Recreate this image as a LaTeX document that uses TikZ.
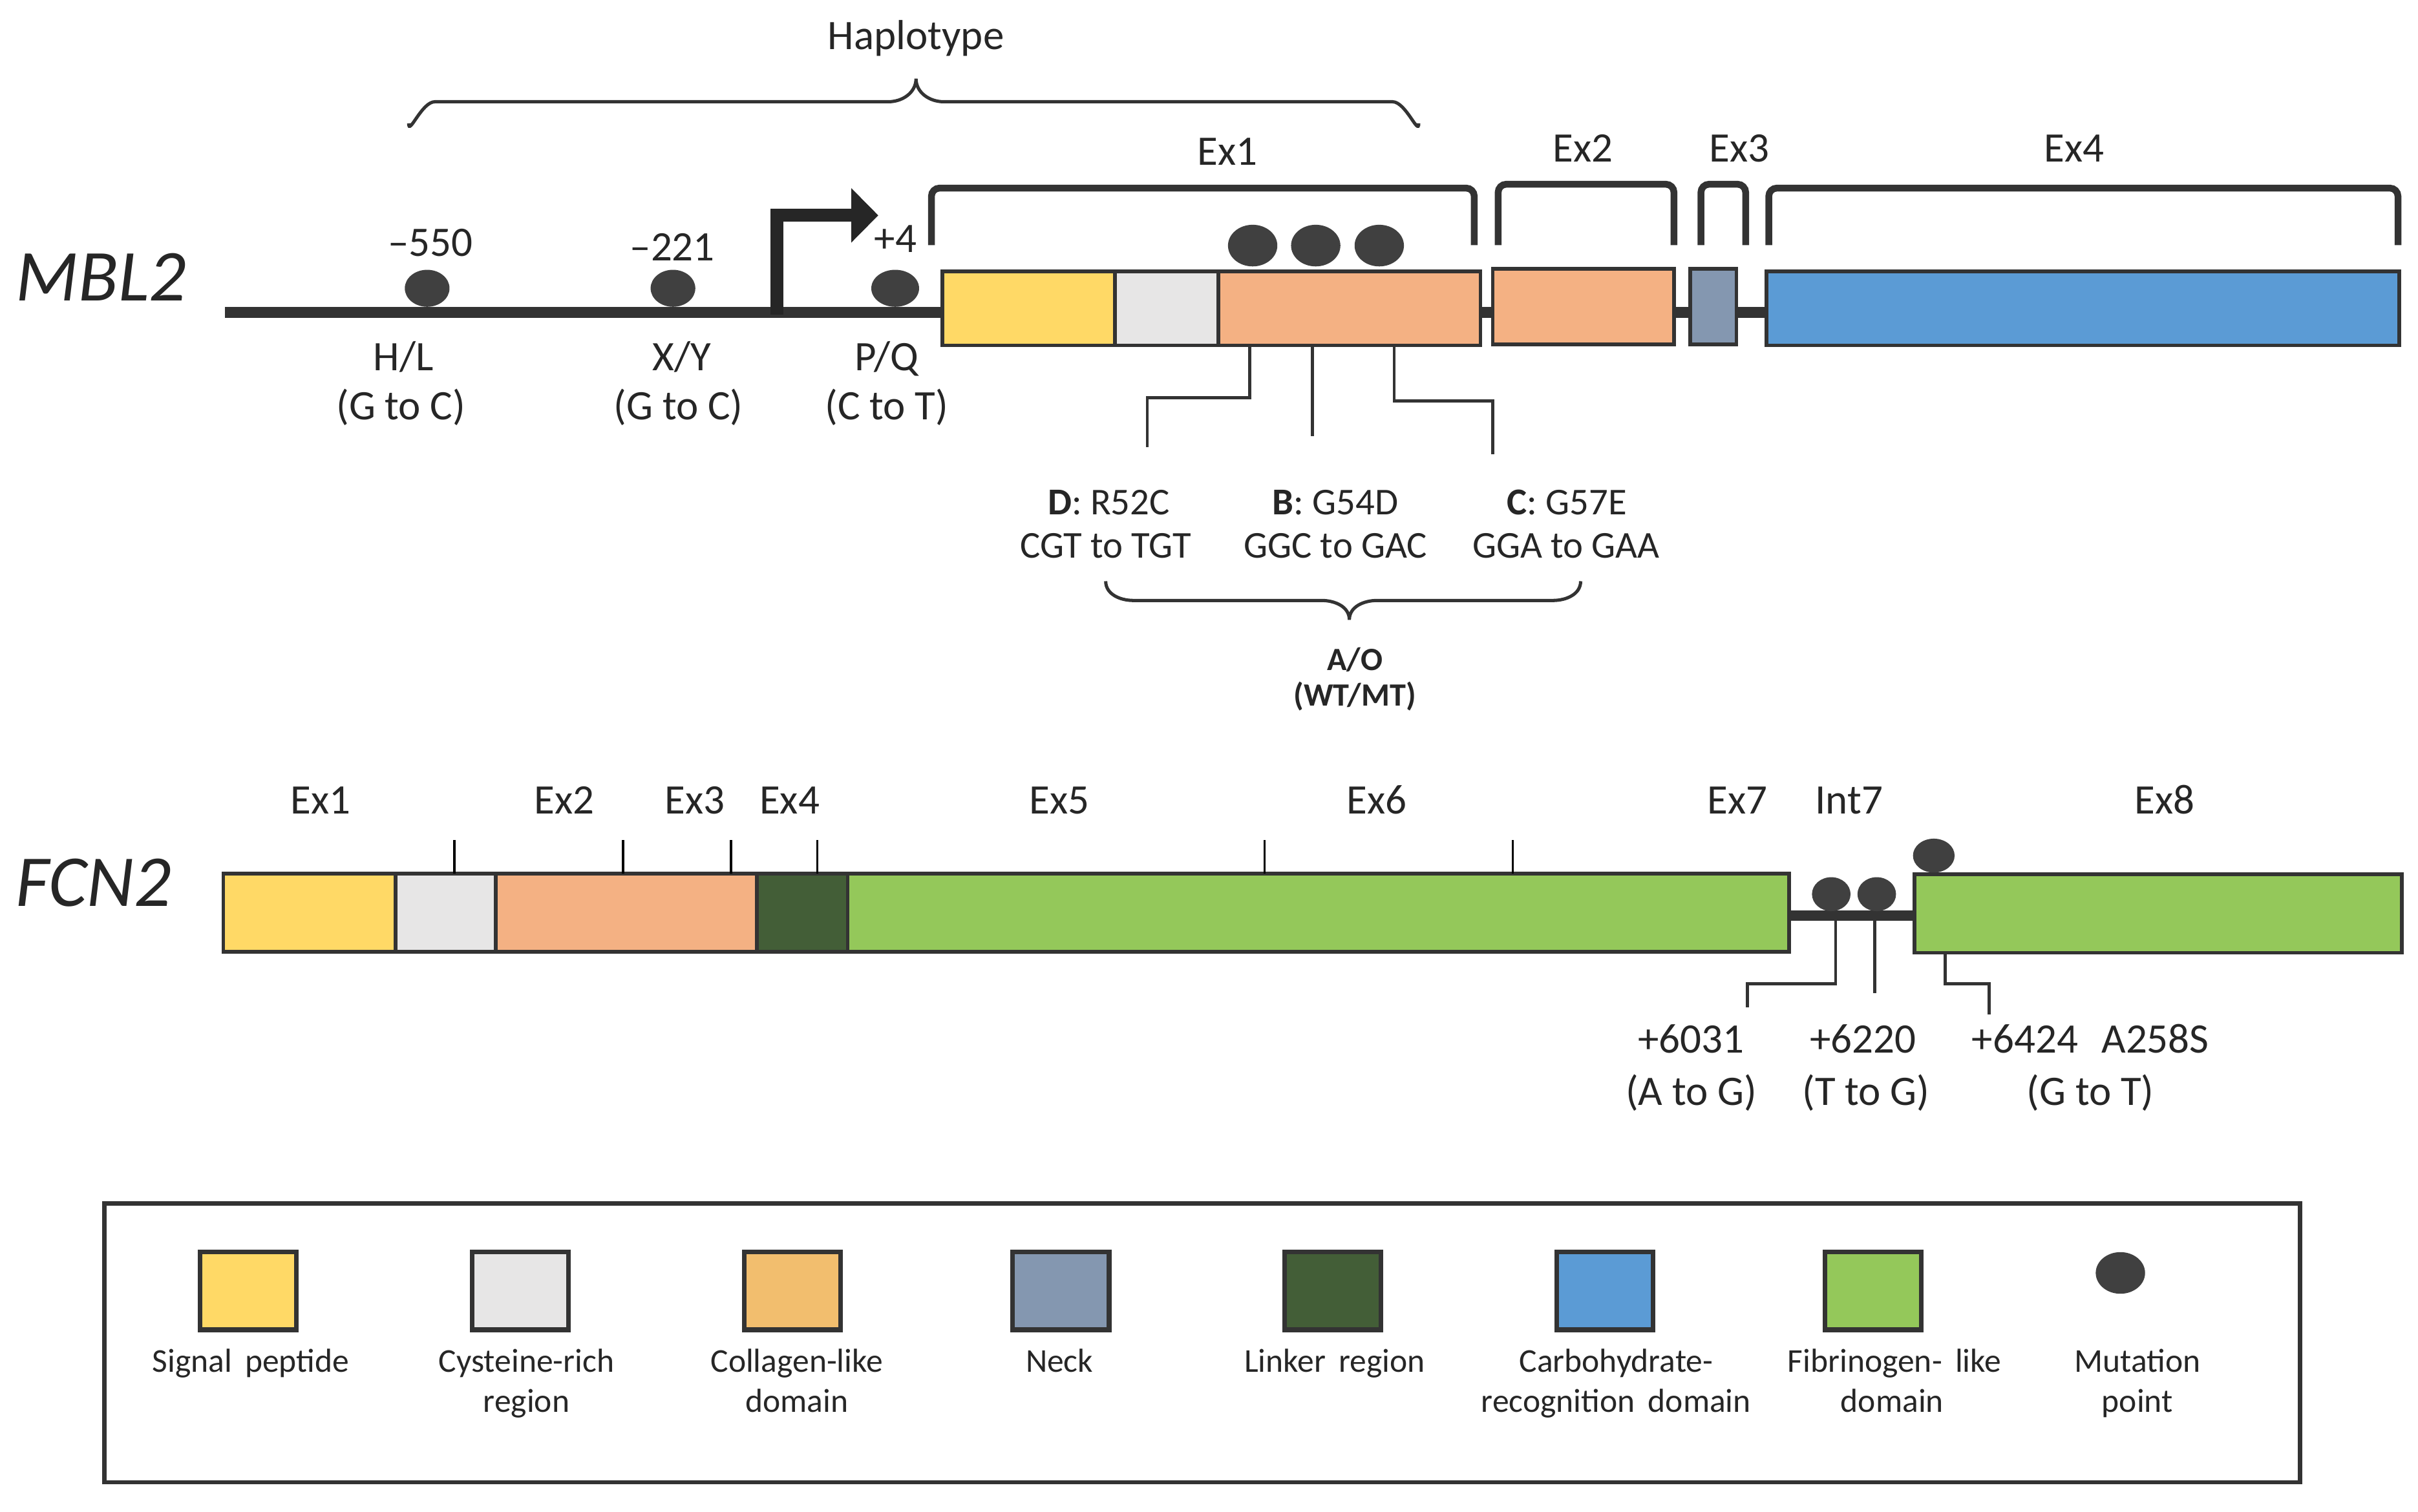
\documentclass[tikz,border=0pt]{standalone}
\usepackage{fontspec}
\setmainfont{Carlito}
\usetikzlibrary{shapes.geometric}
\definecolor{cyel}{HTML}{FFD966}
\definecolor{cgry}{HTML}{E7E6E6}
\definecolor{csal}{HTML}{F4B183}
\definecolor{cnek}{HTML}{8497B0}
\definecolor{cblu}{HTML}{5B9BD5}
\definecolor{cdgr}{HTML}{435E37}
\definecolor{cgrn}{HTML}{94C85A}
\definecolor{ccol}{HTML}{F2BE6E}
\definecolor{dotc}{HTML}{404040}
\definecolor{outl}{HTML}{333333}
\definecolor{txt}{HTML}{262626}
\newcommand\segbox[6]{\node[segb, fill=#2, minimum width={(#4-(#3))*0.02cm}, minimum height={(#6-(#5))*0.02cm}] (#1) at ({(#3+#4)/2},{(#5+#6)/2}) {};}
\newcommand\mdot[5]{\node[mdotb, minimum width={#4*0.02cm}, minimum height={#5*0.02cm}] (#1) at (#2,#3) {};}
\tikzset{
  segb/.style={draw=outl, line width=1.4pt, inner sep=0pt, outer sep=0pt, rectangle},
  legb/.style={draw=outl, line width=1.7pt, inner sep=0pt, outer sep=0pt, rectangle,
     minimum width={62.5*0.02cm}, minimum height={50.5*0.02cm}},
  mdotb/.style={ellipse, fill=dotc, draw=none, inner sep=0pt, outer sep=0pt},
  mainline/.style={draw=outl, line width=4pt},
  intronline/.style={draw=outl, line width=3.7pt},
  exbracket/.style={draw=outl, line width=2.5pt, rounded corners=3pt},
  cbrace/.style={draw=outl, line width=1.2pt},
  thinl/.style={draw=outl, line width=1.1pt},
  tickl/.style={draw=black, line width=0.9pt},
  lbl/.style={font=\fontsize{15.5}{18}\selectfont, text=txt, inner sep=0pt, anchor=base},
  mlbl/.style={font=\fontsize{14}{17}\selectfont, text=txt, inner sep=0pt, anchor=base},
  blbl/.style={font=\fontsize{12}{14}\selectfont\bfseries, text=txt, inner sep=0pt, anchor=base},
  leglbl/.style={font=\fontsize{12.3}{15}\selectfont, text=txt, inner sep=0pt, anchor=base},
  gname/.style={font=\fontsize{27}{30}\selectfont\itshape, text=txt, inner sep=0pt, anchor=base west},
}
\begin{document}
\begin{tikzpicture}[x=0.02cm,y=-0.02cm]
\useasboundingbox (0,0) rectangle (1568,980.4);

% ================= MBL2 =================
\node[gname] (mbl2) at (10,195) {MBL2};
\node[lbl] (hapl) at (594,32) {Haplotype};
\draw[cbrace] (265,80) to[out=-90,in=180] (282,66) -- (576,66) to[out=0,in=-90] (594,51)
  to[out=-90,in=180] (612,66) -- (903,66) to[out=0,in=-90] (920,80);

\coordinate (mstart) at (146,202.5);
\segbox{ex1a}{cyel}{611}{723}{176}{224}
\segbox{ex1b}{cgry}{723}{790}{176}{224}
\segbox{ex1c}{csal}{790}{960}{176}{224}
\segbox{ex2m}{csal}{968}{1085.5}{174.5}{223.5}
\segbox{ex3m}{cnek}{1096}{1126}{174.5}{223.5}
\segbox{ex4m}{cblu}{1145.5}{1556}{176}{224}
\draw[mainline] (mstart) -- (mstart -| ex1a.west);
\draw[mainline] (ex1c.east |- mstart) -- (ex2m.west |- mstart);
\draw[mainline] (ex2m.east |- mstart) -- (ex3m.west |- mstart);
\draw[mainline] (ex3m.east |- mstart) -- (ex4m.west |- mstart);

% transcription start arrow
\draw[draw=txt, line width=4.8pt] (503.8,204) -- (503.8,139.7) -- (554,139.7);
\fill[txt] (552,122) -- (569.5,139.7) -- (552,157.4) -- cycle;

% exon brackets
\draw[exbracket] (604,159) -- (604,122) -- (956,122) -- (956,159);
\draw[exbracket] (971.5,159) -- (971.5,119.5) -- (1085.5,119.5) -- (1085.5,159);
\draw[exbracket] (1103,159) -- (1103,119.5) -- (1132,119.5) -- (1132,159);
\draw[exbracket] (1147,159) -- (1147,122) -- (1555,122) -- (1555,159);
\node[lbl] (mex1) at (796,107) {Ex1};
\node[lbl] (mex2) at (1026.5,105) {Ex2};
\node[lbl] (mex3) at (1128,105) {Ex3};
\node[lbl] (mex4) at (1345,105) {Ex4};

% promoter mutations
\mdot{p550}{277}{187}{29}{24}
\mdot{p221}{436.4}{187}{29}{24}
\mdot{p4}{580.5}{187}{31}{24}
\node[lbl] (t550) at (279,166) {–550};
\node[lbl] (t221) at (436,169) {–221};
\node[lbl] (t4) at (580.7,163.5) {+4};
\node[lbl] (hl) at (261.7,240.4) {H/L};
\node[lbl] (hl2) at (260,272.3) {(G to C)};
\node[lbl] (xy) at (442,240.4) {X/Y};
\node[lbl] (xy2) at (440,272.3) {(G to C)};
\node[lbl] (pq) at (575,240.4) {P/Q};
\node[lbl] (pq2) at (575,272.3) {(C to T)};

% exon 1 mutations
\mdot{mD}{812.3}{159.3}{32}{27}
\mdot{mB}{853.2}{159.3}{32}{27}
\mdot{mC}{894.4}{159.3}{32}{27}
\coordinate (cD) at (744,290);
\coordinate (cB) at (851,283);
\coordinate (cC) at (968,294.5);
\draw[thinl] (ex1c.south -| mD) ++(-2,0) coordinate (sD) (sD) -- ++(0,34) -| (cD);
\draw[thinl] (ex1c.south -| cB) -- (cB);
\draw[thinl] (ex1c.south -| 904,0) -- (904,260) -| (cC);
\node[mlbl] (lD) at (719,334) {\textbf{D}: R52C};
\node[mlbl] (lD2) at (717,362) {CGT to TGT};
\node[mlbl] (lB) at (866,334) {\textbf{B}: G54D};
\node[mlbl] (lB2) at (866,362) {GGC to GAC};
\node[mlbl] (lC) at (1016,334) {\textbf{C}: G57E};
\node[mlbl] (lC2) at (1015.6,362) {GGA to GAA};
\draw[cbrace] (717,377) to[out=-90,in=180] (735,389.5) -- (857,389.5) to[out=0,in=90] (875,402)
  to[out=90,in=180] (893,389.5) -- (1007,389.5) to[out=0,in=-90] (1025,377);
\node[blbl] (ao) at (878.6,435) {A/O};
\node[blbl] (ao2) at (878.6,458) {(WT/MT)};

% ================= FCN2 =================
\node[gname] (fcn2) at (10,588) {FCN2};
\segbox{fa}{cyel}{144.8}{256.5}{566.5}{617.5}
\segbox{fb}{cgry}{256.5}{321.6}{566.5}{617.5}
\segbox{fc}{csal}{321.6}{490.8}{566.5}{617.5}
\segbox{fd}{cdgr}{490.8}{549.7}{566.5}{617.5}
\segbox{fe}{cgrn}{549.7}{1160}{566.5}{617.5}
\segbox{ff}{cgrn}{1241.5}{1557.5}{567}{618}
\coordinate (iy) at (0,594);
\draw[intronline] (fe.east |- iy) -- (ff.west |- iy);
\foreach \tx/\nm in {294.7/ta,404/tb,474/tc,530/td,820/te,981/tf}{
  \coordinate (\nm) at (\tx,545);
  \draw[tickl] (\nm) -- (\nm |- fe.north);
}
\node[lbl] (fex1) at (208,528) {Ex1};
\node[lbl] (fex2) at (366,528) {Ex2};
\node[lbl] (fex3) at (450.6,528) {Ex3};
\node[lbl] (fex4) at (512,528) {Ex4};
\node[lbl] (fex5) at (687,528) {Ex5};
\node[lbl] (fex6) at (892.7,528) {Ex6};
\node[lbl] (fex7) at (1126.6,528) {Ex7};
\node[lbl] (fint7) at (1199,528) {Int7};
\node[lbl] (fex8) at (1403.6,528) {Ex8};

\mdot{m6031}{1187.5}{580}{25}{22}
\mdot{m6220}{1217}{580}{25}{22}
\mdot{m6424}{1254}{555}{27}{22}
\coordinate (c6031) at (1133,653.6);
\coordinate (c6220) at (1215.7,644);
\coordinate (c6424) at (1290,658);
\draw[thinl] (1190.3,597) -- (1190.3,638) -| (c6031);
\draw[thinl] (1215.7,597) -- (c6220);
\draw[thinl] (ff.south -| 1261.5,0) -- (1261.5,638) -| (c6424);
\node[lbl] (l6031) at (1096.5,683) {+6031};
\node[lbl] (l6031b) at (1096.7,717) {(A to G)};
\node[lbl] (l6220) at (1208,683) {+6220};
\node[lbl] (l6220b) at (1210,717) {(T to G)};
\node[lbl] (l6424) at (1355.6,683) {+6424\,\, A258S};
\node[lbl] (l6424b) at (1355.6,717) {(G to T)};

% ================= Legend =================
\node[draw=outl, line width=1.6pt, minimum width={1423.9*0.02cm}, minimum height={181*0.02cm}, inner sep=0pt] (legend) at (779.55,871) {};
\node[legb, fill=cyel] (sw1) at (160.8,837.3) {};
\node[legb, fill=cgry] (sw2) at (337.5,837.3) {};
\node[legb, fill=ccol] (sw3) at (513.8,837.3) {};
\node[legb, fill=cnek] (sw4) at (688,837.3) {};
\node[legb, fill=cdgr] (sw5) at (864.1,837.3) {};
\node[legb, fill=cblu] (sw6) at (1040.6,837.3) {};
\node[legb, fill=cgrn] (sw7) at (1214.8,837.3) {};
\mdot{sw8}{1375}{825.7}{32}{27}
\node[leglbl] (lg1) at (162.6,890) {Signal\, peptide};
\node[leglbl] (lg2) at (341.4,890) {Cysteine-rich};
\node[leglbl] (lg2b) at (341.4,916) {region};
\node[leglbl] (lg3) at (516.7,890) {Collagen-like};
\node[leglbl] (lg3b) at (516.7,916) {domain};
\node[leglbl] (lg4) at (687,890) {Neck};
\node[leglbl] (lg5) at (865.5,890) {Linker\, region};
\node[leglbl] (lg6) at (1048,890) {Carbohydrate-};
\node[leglbl] (lg6b) at (1048,916) {recognition\, domain};
\node[leglbl] (lg7) at (1228.5,890) {Fibrinogen-\, like};
\node[leglbl] (lg7b) at (1227,916) {domain};
\node[leglbl] (lg8) at (1386,890) {Mutation};
\node[leglbl] (lg8b) at (1386,916) {point};
\end{tikzpicture}
\end{document}
